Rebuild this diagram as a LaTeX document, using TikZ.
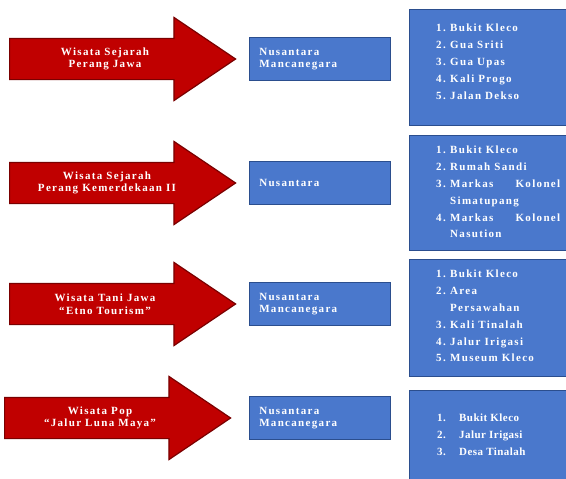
\documentclass[tikz,border=0pt]{standalone}
\usepackage{fontspec}
\setmainfont{Liberation Serif}
\newfontfamily\wideserif{Liberation Serif}[LetterSpace=12]
\newfontfamily\narrowserif{Liberation Serif}[LetterSpace=4]
\usepackage{tikz}
\usetikzlibrary{positioning, shapes.arrows}
\definecolor{tourred}{HTML}{C00000}
\definecolor{tourreddark}{HTML}{7A0000}
\definecolor{boxblue}{HTML}{4A78CC}
\definecolor{boxbluedark}{HTML}{2B4E8E}
\newcommand{\itm}[3][14pt]{\makebox[#1][l]{#2}#3}

\begin{document}
\begin{tikzpicture}[
  x=1pt, y=-1pt,
  font=\wideserif\bfseries\fontsize{11}{12.5}\selectfont,
  tour/.style={single arrow, fill=tourred, draw=tourreddark, line width=1.2pt,
    minimum height=226pt, minimum width=82pt, single arrow head extend=21pt,
    single arrow tip angle=68, inner xsep=0pt, inner ysep=20pt, anchor=tail},
  tourtext/.style={text=white, align=center, inner sep=0pt},
  market/.style={rectangle, fill=boxblue, draw=boxbluedark, line width=1.2pt,
    minimum height=43pt, text width=121pt, inner xsep=10pt, align=left, text=white},
  listbox/.style={rectangle, fill=boxblue, draw=boxbluedark, line width=1.2pt,
    minimum width=175pt, anchor=north west},
  items/.style={text=white, align=left, inner sep=0pt,
    font=\wideserif\bfseries\fontsize{11}{16.8}\selectfont}
]
\useasboundingbox (0,0) rectangle (566,479);

% Perang Jawa
\node[tour] (aJawa) at (9,59) {};
\node[tourtext] (tJawa) at ([xshift=96pt]aJawa.tail) {Wisata Sejarah\\Perang Jawa};
\node[market, right=12pt of aJawa.tip] (mJawa) {Nusantara\\Mancanegara};
\node[listbox, minimum height=116pt] (lJawa) at (409,9) {};
\node[items, below right=15pt and 27pt of lJawa.north west] (iJawa)
  {\itm{1.}{Bukit Kleco}\\\itm{2.}{Gua Sriti}\\\itm{3.}{Gua Upas}\\
   \itm{4.}{Kali Progo}\\\itm{5.}{Jalan Dekso}};

% Perang Kemerdekaan II
\node[tour] (aMerdeka) at (9,183) {};
\node[tourtext] (tMerdeka) at ([xshift=98pt]aMerdeka.tail) {Wisata Sejarah\\Perang Kemerdekaan II};
\node[market, right=12pt of aMerdeka.tip] (mMerdeka) {Nusantara};
\node[listbox, minimum height=115pt] (lMerdeka) at (409,135) {};
\node[items, below right=11pt and 27pt of lMerdeka.north west] (iMerdeka)
  {\itm{1.}{Bukit Kleco}\\\itm{2.}{Rumah Sandi}\\
   \itm{3.}{\makebox[110pt][s]{Markas Kolonel}}\\\hspace*{14pt}Simatupang\\
   \itm{4.}{\makebox[110pt][s]{Markas Kolonel}}\\\hspace*{14pt}Nasution};

% Tani Jawa
\node[tour] (aTani) at (9,304) {};
\node[tourtext] (tTani) at ([xshift=96pt]aTani.tail) {Wisata Tani Jawa\\“Etno Tourism”};
\node[market, right=12pt of aTani.tip] (mTani) {Nusantara\\Mancanegara};
\node[listbox, minimum height=117pt] (lTani) at (409,259) {};
\node[items, below right=11pt and 27pt of lTani.north west] (iTani)
  {\itm{1.}{Bukit Kleco}\\\itm{2.}{Area}\\\hspace*{14pt}Persawahan\\
   \itm{3.}{Kali Tinalah}\\\itm{4.}{Jalur Irigasi}\\\itm{5.}{Museum Kleco}};

% Luna Maya
\node[tour] (aPop) at (4,418) {};
\node[tourtext] (tPop) at ([xshift=96pt]aPop.tail) {Wisata Pop\\“Jalur Luna Maya”};
\node[market, right=17pt of aPop.tip] (mPop) {Nusantara\\Mancanegara};
\node[listbox, minimum height=100pt] (lPop) at (409,390) {};
\node[items, font=\narrowserif\bfseries\fontsize{11}{16.8}\selectfont,
  below right=24pt and 28pt of lPop.north west] (iPop)
  {\itm[22pt]{1.}{Bukit Kleco}\\\itm[22pt]{2.}{Jalur Irigasi}\\\itm[22pt]{3.}{Desa Tinalah}};
\end{tikzpicture}
\end{document}
